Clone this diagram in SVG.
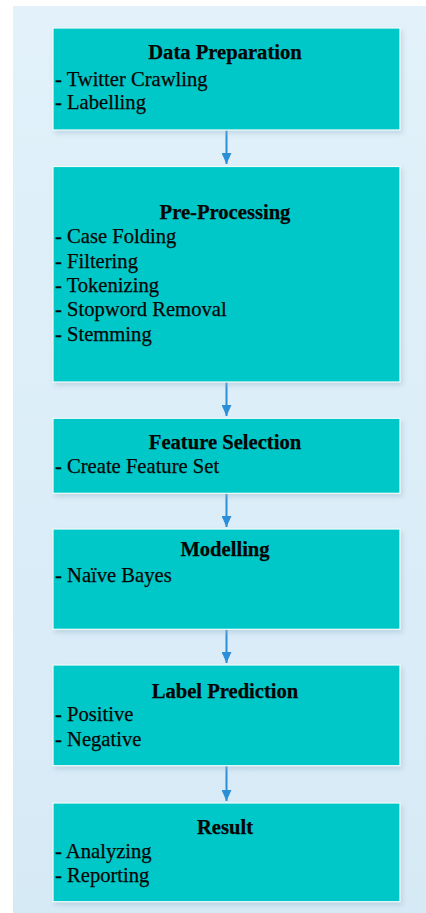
<svg xmlns="http://www.w3.org/2000/svg" width="426" height="913" viewBox="0 0 426 913">
<defs>
<linearGradient id="bg" x1="0" y1="0" x2="0" y2="1">
<stop offset="0" stop-color="#e2f1fa"/>
<stop offset="1" stop-color="#d6eaf6"/>
</linearGradient>
<filter id="sh" x="-5%" y="-5%" width="115%" height="120%">
<feDropShadow dx="2" dy="3" stdDeviation="2.5" flood-color="#9ab8cc" flood-opacity="0.45"/>
</filter>
<marker id="ah" markerWidth="11" markerHeight="10" refX="11" refY="5" orient="auto" markerUnits="userSpaceOnUse" viewBox="0 0 11 10">
<path d="M0,0 L11,5 L0,10 Z" fill="#2b8fd8"/>
</marker>
<style>
.box{fill:#00c8c8;stroke:#f2fbfb;stroke-width:1.2;filter:url(#sh)}
.t{font-family:"Liberation Serif","Times New Roman",serif;font-size:20.6px;fill:#050505;stroke:#050505;stroke-width:0.25}
.h{font-weight:bold;text-anchor:middle}
.conn{stroke:#2b8fd8;stroke-width:2;fill:none;marker-end:url(#ah)}
</style>
</defs>
<rect x="13" y="6" width="413" height="907" fill="url(#bg)"/>
<g id="connectors">
<line class="conn" x1="226.5" y1="130" x2="226.5" y2="164"/>
<line class="conn" x1="226.5" y1="382" x2="226.5" y2="416"/>
<line class="conn" x1="226.5" y1="493" x2="226.5" y2="527"/>
<line class="conn" x1="226.5" y1="629" x2="226.5" y2="663"/>
<line class="conn" x1="226.5" y1="766" x2="226.5" y2="801"/>
</g>
<g id="data-preparation">
<rect class="box" x="53" y="28" width="347" height="102"/>
<text class="t h" x="225" y="58.5">Data Preparation</text>
<text class="t" x="55" y="85.5">- Twitter Crawling</text>
<text class="t" x="55" y="109">- Labelling</text>
</g>
<g id="pre-processing">
<rect class="box" x="53" y="166.5" width="347" height="215.5"/>
<text class="t h" x="225" y="219">Pre-Processing</text>
<text class="t" x="55" y="243">- Case Folding</text>
<text class="t" x="55" y="267.5">- Filtering</text>
<text class="t" x="55" y="292">- Tokenizing</text>
<text class="t" x="55" y="316.2">- Stopword Removal</text>
<text class="t" x="55" y="340.5">- Stemming</text>
</g>
<g id="feature-selection">
<rect class="box" x="53" y="418.3" width="347" height="75"/>
<text class="t h" x="225" y="448.8">Feature Selection</text>
<text class="t" x="55" y="472.8">- Create Feature Set</text>
</g>
<g id="modelling">
<rect class="box" x="53" y="529" width="347" height="100.3"/>
<text class="t h" x="225" y="555.5">Modelling</text>
<text class="t" x="55" y="582">- Naïve Bayes</text>
</g>
<g id="label-prediction">
<rect class="box" x="53" y="665" width="347" height="100.7"/>
<text class="t h" x="225" y="697.8">Label Prediction</text>
<text class="t" x="55" y="721.2">- Positive</text>
<text class="t" x="55" y="745.5">- Negative</text>
</g>
<g id="result">
<rect class="box" x="53" y="803" width="347" height="98.7"/>
<text class="t h" x="225" y="833.8">Result</text>
<text class="t" x="55" y="857.8">- Analyzing</text>
<text class="t" x="55" y="882.2">- Reporting</text>
</g>
</svg>
